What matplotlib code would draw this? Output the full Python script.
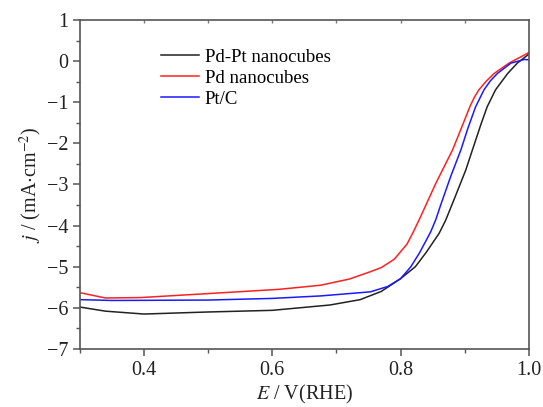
import matplotlib
matplotlib.use('Agg')
import matplotlib.pyplot as plt
from matplotlib.ticker import MultipleLocator

plt.rcParams['font.family'] = ['Liberation Serif', 'DejaVu Serif']
plt.rcParams['mathtext.fontset'] = 'stix'

# Pd-Pt nanocubes
e_pdpt = [0.30, 0.34, 0.40, 0.50, 0.60, 0.69, 0.737, 0.77, 0.80, 0.823, 0.84, 0.86, 0.87,
          0.883, 0.9016, 0.912, 0.925, 0.935, 0.948, 0.967, 0.982, 1.00]
j_pdpt = [-5.98, -6.08, -6.15, -6.10, -6.06, -5.93, -5.80, -5.60, -5.29, -5.00, -4.65, -4.19,
          -3.88, -3.38, -2.65, -2.16, -1.55, -1.11, -0.70, -0.30, -0.05, 0.17]
# Pd nanocubes
e_pd = [0.30, 0.34, 0.394, 0.503, 0.61, 0.675, 0.72, 0.753, 0.77, 0.79, 0.81, 0.82, 0.831,
        0.855, 0.881, 0.895, 0.908, 0.915, 0.922, 0.934, 0.946, 0.969, 0.998, 1.00]
j_pd = [-5.63, -5.76, -5.75, -5.65, -5.55, -5.45, -5.30, -5.12, -5.02, -4.82, -4.45, -4.15,
        -3.79, -2.97, -2.16, -1.62, -1.11, -0.88, -0.70, -0.48, -0.30, -0.05, 0.19, 0.21]
# Pt/C
e_ptc = [0.30, 0.35, 0.50, 0.60, 0.675, 0.753, 0.78, 0.80, 0.816, 0.83, 0.847, 0.855, 0.8625,
         0.878, 0.894, 0.905, 0.917, 0.930, 0.94, 0.951, 0.972, 0.993, 1.00]
j_ptc = [-5.80, -5.82, -5.81, -5.77, -5.71, -5.61, -5.48, -5.29, -5.00, -4.65, -4.15, -3.85,
         -3.50, -2.81, -2.16, -1.63, -1.11, -0.70, -0.48, -0.30, -0.05, 0.04, 0.03]

fig = plt.figure(figsize=(5.43, 4.07), dpi=100)
ax = fig.add_axes([0.147, 0.1425, 0.827, 0.8085])

ax.plot(e_pdpt, j_pdpt, color='#222222', lw=1.1, label='Pd-Pt nanocubes')
ax.plot(e_pd, j_pd, color='#ff2020', lw=1.1, label='Pd nanocubes')
ax.plot(e_ptc, j_ptc, color='#1a1aff', lw=1.1, label='Pt/C')

ax.set_xlim(0.3, 1.0)
ax.set_ylim(-7, 1)
ax.set_xticks([0.4, 0.6, 0.8, 1.0])
ax.set_xticklabels(['0.4', '0.6', '0.8', '1.0'])
ax.xaxis.set_minor_locator(MultipleLocator(0.1))
ax.yaxis.set_major_locator(MultipleLocator(1))
ax.yaxis.set_minor_locator(MultipleLocator(0.5))

for s in ax.spines.values():
    s.set_color('#555555')
    s.set_linewidth(1.2)
ax.tick_params(which='both', direction='out', colors='#555555', labelcolor='#222222',
               labelsize=14.5)
ax.tick_params(which='major', length=5, width=1.1)
ax.tick_params(which='minor', length=3, width=1.0)

# small inward ticks along the top spine
top = ax.secondary_xaxis('top')
top.set_xticks([0.4, 0.5, 0.6, 0.7, 0.8, 0.9])
top.tick_params(direction='in', length=2, width=1.0, colors='#777777', labeltop=False)
top.spines['top'].set_visible(False)

ax.set_xlabel(r'$E$ / V(RHE)', fontsize=14.5, labelpad=2, color='#222222')
ax.set_ylabel(r'$j$ / (mA$\cdot$cm$^{-2}$)', fontsize=14.5, labelpad=2, color='#222222')

ax.legend(loc='upper left', bbox_to_anchor=(0.165, 0.935), frameon=False, fontsize=13.5,
          handlelength=2.0, handletextpad=0.3, labelspacing=0.2, borderaxespad=0)

fig.savefig('out.png', dpi=100)
